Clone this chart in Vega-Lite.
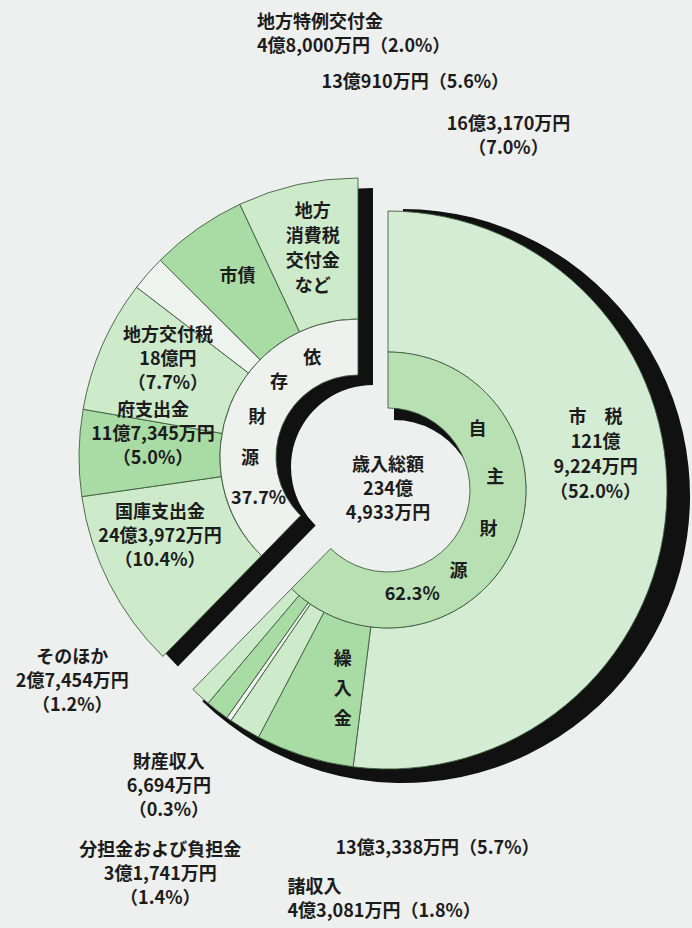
{
  "$schema": "https://vega.github.io/schema/vega-lite/v6.json",
  "width": 692,
  "height": 928,
  "autosize": {"type": "none"},
  "padding": 0,
  "background": "#eef0ef",
  "config": {
    "view": {"stroke": null},
    "text": {"font": "Noto Sans CJK JP", "fontSize": 18, "fontWeight": "bold", "lineHeight": 24, "lineBreak": "\n", "color": "#1c1c1c"}
  },
  "datasets": {
    "outer": [
      {"item": "市税", "grp": "自主", "amount": 1219224, "ord": 1, "inside": "市　税\n121億\n9,224万円\n（52.0%）", "callout": ""},
      {"item": "繰入金", "grp": "自主", "amount": 133338, "ord": 2, "inside": "繰\n入\n金", "callout": "13億3,338万円（5.7%）"},
      {"item": "諸収入", "grp": "自主", "amount": 43081, "ord": 3, "inside": "", "callout": "諸収入\n4億3,081万円（1.8%）"},
      {"item": "財産収入", "grp": "自主", "amount": 6694, "ord": 4, "inside": "", "callout": "財産収入\n6,694万円\n（0.3%）"},
      {"item": "分担金および負担金", "grp": "自主", "amount": 31741, "ord": 5, "inside": "", "callout": "分担金および負担金\n3億1,741万円\n（1.4%）"},
      {"item": "そのほか", "grp": "自主", "amount": 27454, "ord": 6, "inside": "", "callout": "そのほか\n2億7,454万円\n（1.2%）"},
      {"item": "国庫支出金", "grp": "依存", "amount": 243972, "ord": 7, "inside": "国庫支出金\n24億3,972万円\n（10.4%）", "callout": ""},
      {"item": "府支出金", "grp": "依存", "amount": 117345, "ord": 8, "inside": "府支出金\n11億7,345万円\n（5.0%）", "callout": ""},
      {"item": "地方交付税", "grp": "依存", "amount": 180000, "ord": 9, "inside": "地方交付税\n18億円\n（7.7%）", "callout": ""},
      {"item": "地方特例交付金", "grp": "依存", "amount": 48000, "ord": 10, "inside": "", "callout": "地方特例交付金\n4億8,000万円（2.0%）"},
      {"item": "市債", "grp": "依存", "amount": 130910, "ord": 11, "inside": "市債", "callout": "13億910万円（5.6%）"},
      {"item": "地方消費税交付金など", "grp": "依存", "amount": 163170, "ord": 12, "inside": "地方\n消費税\n交付金\nなど", "callout": "16億3,170万円\n（7.0%）"}
    ],
    "inner": [
      {"grp": "自主", "label": "自主財源", "amount": 1461532, "ord": 1},
      {"grp": "依存", "label": "依存財源", "amount": 883397, "ord": 2}
    ],
    "center": [
      {"t": "歳入総額\n234億\n4,933万円", "total": 2344933}
    ],
    "ringR": [{"ch": "自"}, {"ch": "主"}, {"ch": "財"}, {"ch": "源"}, {"ch": "62.3%"}],
    "ringL": [{"ch": "依"}, {"ch": "存"}, {"ch": "財"}, {"ch": "源"}, {"ch": "37.7%"}]
  },
  "resolve": {"scale": {"theta": "independent", "fill": "independent"}},
  "layer": [
    {
      "data": {"name": "inner"},
      "mark": {"type": "arc", "radius": 279, "radius2": 82, "fill": "#111111", "xOffset": 27, "yOffset": 3},
      "encoding": {
        "theta": {"field": "amount", "type": "quantitative", "stack": true, "scale": {"domain": [0, 2344929]}},
        "order": {"field": "ord", "type": "quantitative"},
        "opacity": {"condition": {"test": "datum.grp === '依存'", "value": 1}, "value": 0}
      }
    },
    {
      "data": {"name": "inner"},
      "mark": {"type": "arc", "radius": 287, "radius2": 200, "fill": "#111111", "xOffset": 57, "yOffset": 32},
      "encoding": {
        "theta": {"field": "amount", "type": "quantitative", "stack": true, "scale": {"domain": [0, 2344929]}},
        "order": {"field": "ord", "type": "quantitative"},
        "opacity": {"condition": {"test": "datum.grp === '自主'", "value": 1}, "value": 0}
      }
    },
    {
      "data": {"name": "inner"},
      "mark": {"type": "arc", "radius": 138, "radius2": 82, "fill": "#111111", "xOffset": 48, "yOffset": 38},
      "encoding": {
        "theta": {"field": "amount", "type": "quantitative", "stack": true, "scale": {"domain": [0, 2344929]}},
        "order": {"field": "ord", "type": "quantitative"},
        "opacity": {"condition": {"test": "datum.grp === '自主'", "value": 1}, "value": 0}
      }
    },
    {
      "data": {"name": "outer"},
      "mark": {"type": "arc", "radius": 279, "radius2": 138, "stroke": "#3f5f3f", "strokeWidth": 0.9, "xOffset": 42, "yOffset": 26},
      "encoding": {
        "theta": {"field": "amount", "type": "quantitative", "stack": true, "scale": {"domain": [0, 2344929]}},
        "order": {"field": "ord", "type": "quantitative"},
        "fill": {"field": "item", "type": "nominal", "legend": null, "scale": {
          "domain": ["市税", "繰入金", "諸収入", "財産収入", "分担金および負担金", "そのほか", "国庫支出金", "府支出金", "地方交付税", "地方特例交付金", "市債", "地方消費税交付金など"],
          "range": ["#d4ecd3", "#a9dba4", "#cdeacb", "#f1f4f1", "#a9dba4", "#cdeacb", "#cdeacb", "#a9dba4", "#cdeacb", "#eff3ef", "#a9dba4", "#cdeacb"]}},
        "opacity": {"condition": {"test": "datum.grp === '自主'", "value": 1}, "value": 0}
      }
    },
    {
      "data": {"name": "inner"},
      "mark": {"type": "arc", "radius": 138, "radius2": 82, "stroke": "#3f5f3f", "strokeWidth": 0.9, "xOffset": 42, "yOffset": 26},
      "encoding": {
        "theta": {"field": "amount", "type": "quantitative", "stack": true, "scale": {"domain": [0, 2344929]}},
        "order": {"field": "ord", "type": "quantitative"},
        "fill": {"field": "grp", "type": "nominal", "legend": null, "scale": {"domain": ["自主", "依存"], "range": ["#b8e0b3", "#eef1ee"]}},
        "opacity": {"condition": {"test": "datum.grp === '自主'", "value": 1}, "value": 0}
      }
    },
    {
      "data": {"name": "outer"},
      "mark": {"type": "arc", "radius": 279, "radius2": 138, "stroke": "#3f5f3f", "strokeWidth": 0.9, "xOffset": 12, "yOffset": -7},
      "encoding": {
        "theta": {"field": "amount", "type": "quantitative", "stack": true, "scale": {"domain": [0, 2344929]}},
        "order": {"field": "ord", "type": "quantitative"},
        "fill": {"field": "item", "type": "nominal", "legend": null, "scale": {
          "domain": ["市税", "繰入金", "諸収入", "財産収入", "分担金および負担金", "そのほか", "国庫支出金", "府支出金", "地方交付税", "地方特例交付金", "市債", "地方消費税交付金など"],
          "range": ["#d4ecd3", "#a9dba4", "#cdeacb", "#f1f4f1", "#a9dba4", "#cdeacb", "#cdeacb", "#a9dba4", "#cdeacb", "#eff3ef", "#a9dba4", "#cdeacb"]}},
        "opacity": {"condition": {"test": "datum.grp === '依存'", "value": 1}, "value": 0}
      }
    },
    {
      "data": {"name": "inner"},
      "mark": {"type": "arc", "radius": 138, "radius2": 82, "stroke": "#3f5f3f", "strokeWidth": 0.9, "xOffset": 12, "yOffset": -7},
      "encoding": {
        "theta": {"field": "amount", "type": "quantitative", "stack": true, "scale": {"domain": [0, 2344929]}},
        "order": {"field": "ord", "type": "quantitative"},
        "fill": {"field": "grp", "type": "nominal", "legend": null, "scale": {"domain": ["自主", "依存"], "range": ["#b8e0b3", "#eef1ee"]}},
        "opacity": {"condition": {"test": "datum.grp === '依存'", "value": 1}, "value": 0}
      }
    },
    {
      "data": {"name": "center"},
      "mark": {"type": "text", "align": "center", "baseline": "middle", "xOffset": 42, "yOffset": 26, "dy": -24},
      "encoding": {"text": {"field": "t"}}
    },
    {
      "data": {"name": "ringR"},
      "mark": {"type": "text", "align": "center", "baseline": "middle", "radius": 108, "xOffset": 42, "yOffset": 26},
      "encoding": {
        "theta": {"field": "ch", "type": "nominal", "sort": null, "scale": {"type": "point", "range": [0.977, 2.915]}},
        "text": {"field": "ch"}
      }
    },
    {
      "data": {"name": "ringL"},
      "mark": {"type": "text", "align": "center", "baseline": "middle", "radius": 108, "xOffset": 12, "yOffset": -7},
      "encoding": {
        "theta": {"field": "ch", "type": "nominal", "sort": null, "scale": {"type": "point", "range": [5.847, 4.311]}},
        "text": {"field": "ch"}
      }
    },
    {
      "data": {"name": "outer"},
      "mark": {"type": "text", "align": "center", "baseline": "middle", "radius": 211, "lineHeight": 25, "xOffset": 42, "yOffset": 26, "dx": -3, "dy": -85},
      "encoding": {
        "theta": {"field": "amount", "type": "quantitative", "stack": true, "scale": {"domain": [0, 2344929]}},
        "order": {"field": "ord", "type": "quantitative"},
        "text": {"condition": {"test": "datum.item === '市税'", "field": "inside", "type": "nominal"}, "value": ""}
      }
    },
    {
      "data": {"name": "outer"},
      "mark": {"type": "text", "align": "center", "baseline": "middle", "radius": 205, "lineHeight": 30, "xOffset": 42, "yOffset": 26, "dx": 16, "dy": -26},
      "encoding": {
        "theta": {"field": "amount", "type": "quantitative", "stack": true, "scale": {"domain": [0, 2344929]}},
        "order": {"field": "ord", "type": "quantitative"},
        "text": {"condition": {"test": "datum.item === '繰入金'", "field": "inside", "type": "nominal"}, "value": ""}
      }
    },
    {
      "data": {"name": "outer"},
      "mark": {"type": "text", "align": "center", "baseline": "middle", "radius": 213, "xOffset": 12, "yOffset": -7, "dx": -8, "dy": -40},
      "encoding": {
        "theta": {"field": "amount", "type": "quantitative", "stack": true, "scale": {"domain": [0, 2344929]}},
        "order": {"field": "ord", "type": "quantitative"},
        "text": {"condition": {"test": "datum.item === '国庫支出金'", "field": "inside", "type": "nominal"}, "value": ""}
      }
    },
    {
      "data": {"name": "outer"},
      "mark": {"type": "text", "align": "center", "baseline": "middle", "radius": 213, "xOffset": 12, "yOffset": -7, "dx": 8, "dy": -43},
      "encoding": {
        "theta": {"field": "amount", "type": "quantitative", "stack": true, "scale": {"domain": [0, 2344929]}},
        "order": {"field": "ord", "type": "quantitative"},
        "text": {"condition": {"test": "datum.item === '府支出金'", "field": "inside", "type": "nominal"}, "value": ""}
      }
    },
    {
      "data": {"name": "outer"},
      "mark": {"type": "text", "align": "center", "baseline": "middle", "radius": 213, "xOffset": 12, "yOffset": -7, "dx": 5, "dy": -36},
      "encoding": {
        "theta": {"field": "amount", "type": "quantitative", "stack": true, "scale": {"domain": [0, 2344929]}},
        "order": {"field": "ord", "type": "quantitative"},
        "text": {"condition": {"test": "datum.item === '地方交付税'", "field": "inside", "type": "nominal"}, "value": ""}
      }
    },
    {
      "data": {"name": "outer"},
      "mark": {"type": "text", "align": "center", "baseline": "middle", "radius": 213, "xOffset": 12, "yOffset": -7, "dx": 2, "dy": -6},
      "encoding": {
        "theta": {"field": "amount", "type": "quantitative", "stack": true, "scale": {"domain": [0, 2344929]}},
        "order": {"field": "ord", "type": "quantitative"},
        "text": {"condition": {"test": "datum.item === '市債'", "field": "inside", "type": "nominal"}, "value": ""}
      }
    },
    {
      "data": {"name": "outer"},
      "mark": {"type": "text", "align": "center", "baseline": "middle", "radius": 213, "lineHeight": 25, "xOffset": 12, "yOffset": -7, "dx": 1, "dy": -37},
      "encoding": {
        "theta": {"field": "amount", "type": "quantitative", "stack": true, "scale": {"domain": [0, 2344929]}},
        "order": {"field": "ord", "type": "quantitative"},
        "text": {"condition": {"test": "datum.item === '地方消費税交付金など'", "field": "inside", "type": "nominal"}, "value": ""}
      }
    },
    {
      "data": {"name": "outer"},
      "mark": {"type": "text", "align": "left", "baseline": "middle", "radius": 279, "xOffset": 12, "yOffset": -7, "dx": 109, "dy": -250},
      "encoding": {
        "theta": {"field": "amount", "type": "quantitative", "stack": true, "scale": {"domain": [0, 2344929]}},
        "order": {"field": "ord", "type": "quantitative"},
        "text": {"condition": {"test": "datum.item === '地方特例交付金'", "field": "callout", "type": "nominal"}, "value": ""}
      }
    },
    {
      "data": {"name": "outer"},
      "mark": {"type": "text", "align": "left", "baseline": "middle", "radius": 279, "xOffset": 12, "yOffset": -7, "dx": 124, "dy": -146},
      "encoding": {
        "theta": {"field": "amount", "type": "quantitative", "stack": true, "scale": {"domain": [0, 2344929]}},
        "order": {"field": "ord", "type": "quantitative"},
        "text": {"condition": {"test": "datum.item === '市債'", "field": "callout", "type": "nominal"}, "value": ""}
      }
    },
    {
      "data": {"name": "outer"},
      "mark": {"type": "text", "align": "center", "baseline": "middle", "radius": 279, "xOffset": 12, "yOffset": -7, "dx": 211, "dy": -60},
      "encoding": {
        "theta": {"field": "amount", "type": "quantitative", "stack": true, "scale": {"domain": [0, 2344929]}},
        "order": {"field": "ord", "type": "quantitative"},
        "text": {"condition": {"test": "datum.item === '地方消費税交付金など'", "field": "callout", "type": "nominal"}, "value": ""}
      }
    },
    {
      "data": {"name": "outer"},
      "mark": {"type": "text", "align": "center", "baseline": "middle", "radius": 279, "xOffset": 42, "yOffset": 26, "dx": -128, "dy": -38},
      "encoding": {
        "theta": {"field": "amount", "type": "quantitative", "stack": true, "scale": {"domain": [0, 2344929]}},
        "order": {"field": "ord", "type": "quantitative"},
        "text": {"condition": {"test": "datum.item === 'そのほか'", "field": "callout", "type": "nominal"}, "value": ""}
      }
    },
    {
      "data": {"name": "outer"},
      "mark": {"type": "text", "align": "center", "baseline": "middle", "radius": 279, "xOffset": 42, "yOffset": 26, "dx": -60, "dy": 44},
      "encoding": {
        "theta": {"field": "amount", "type": "quantitative", "stack": true, "scale": {"domain": [0, 2344929]}},
        "order": {"field": "ord", "type": "quantitative"},
        "text": {"condition": {"test": "datum.item === '財産収入'", "field": "callout", "type": "nominal"}, "value": ""}
      }
    },
    {
      "data": {"name": "outer"},
      "mark": {"type": "text", "align": "center", "baseline": "middle", "radius": 279, "xOffset": 42, "yOffset": 26, "dx": -57, "dy": 140},
      "encoding": {
        "theta": {"field": "amount", "type": "quantitative", "stack": true, "scale": {"domain": [0, 2344929]}},
        "order": {"field": "ord", "type": "quantitative"},
        "text": {"condition": {"test": "datum.item === '分担金および負担金'", "field": "callout", "type": "nominal"}, "value": ""}
      }
    },
    {
      "data": {"name": "outer"},
      "mark": {"type": "text", "align": "center", "baseline": "middle", "radius": 279, "xOffset": 42, "yOffset": 26, "dx": 133, "dy": 93},
      "encoding": {
        "theta": {"field": "amount", "type": "quantitative", "stack": true, "scale": {"domain": [0, 2344929]}},
        "order": {"field": "ord", "type": "quantitative"},
        "text": {"condition": {"test": "datum.item === '繰入金'", "field": "callout", "type": "nominal"}, "value": ""}
      }
    },
    {
      "data": {"name": "outer"},
      "mark": {"type": "text", "align": "left", "baseline": "middle", "radius": 279, "xOffset": 42, "yOffset": 26, "dx": 43, "dy": 159},
      "encoding": {
        "theta": {"field": "amount", "type": "quantitative", "stack": true, "scale": {"domain": [0, 2344929]}},
        "order": {"field": "ord", "type": "quantitative"},
        "text": {"condition": {"test": "datum.item === '諸収入'", "field": "callout", "type": "nominal"}, "value": ""}
      }
    }
  ]
}
